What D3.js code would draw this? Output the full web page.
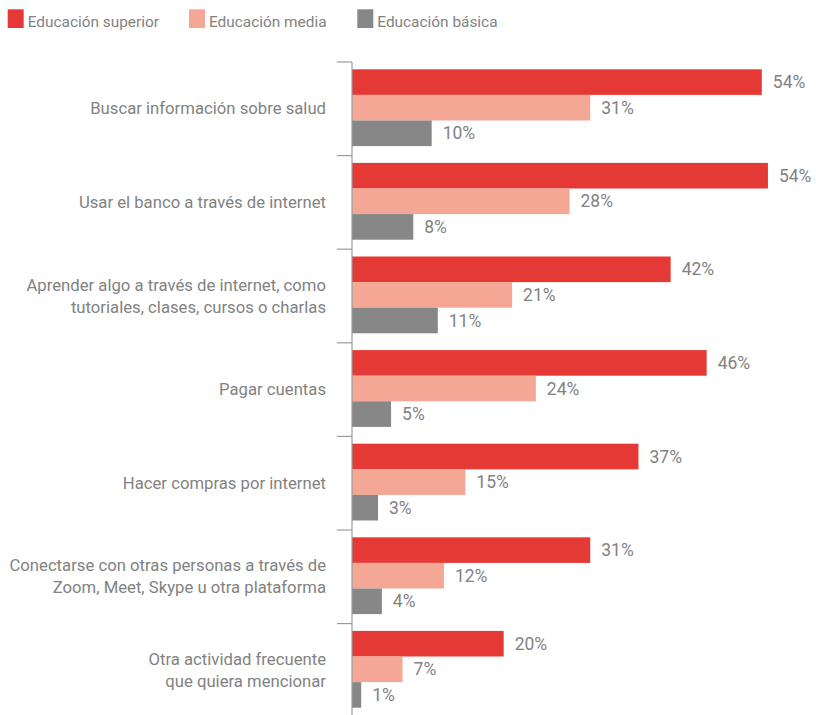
<!DOCTYPE html>
<html>
<head>
<meta charset="utf-8">
<script src="https://cdn.jsdelivr.net/npm/d3@7"></script>
<style>
  html, body { margin: 0; padding: 0; background: #fff; }
  svg { display: block; }
  text { font-family: Roboto, "Liberation Sans", sans-serif; fill: #828282; }
</style>
</head>
<body>
<svg id="chart" width="816" height="715"></svg>
<script>
const categories = [
  "Buscar información sobre salud",
  "Usar el banco a través de internet",
  "Aprender algo a través de internet, como\ntutoriales, clases, cursos o charlas",
  "Pagar cuentas",
  "Hacer compras por internet",
  "Conectarse con otras personas a través de\nZoom, Meet, Skype u otra plataforma",
  "Otra actividad frecuente\nque quiera mencionar"
];
const seriesNames = ["Educación superior", "Educación media", "Educación básica"];
const seriesColors = ["#e53935", "#f4a794", "#878787"];
const superior = [53.5, 54.3, 41.6, 46.3, 37.4, 31.1, 19.8];
const media    = [31.1, 28.4, 20.9, 24.0, 14.8, 12.0, 6.6];
const basica   = [10.4, 8.0, 11.2, 5.1, 3.4, 3.9, 1.2];
const seriesValues = [superior, media, basica];

const svg = d3.select("#chart");

const x = d3.scaleLinear().domain([0, 60]).range([352, 352 + 60 * 7.66]);
const y = d3.scaleBand().domain(categories).range([62, 62 + 7 * 93.6]);
const inner = d3.scaleBand().domain(seriesNames).range([7.3, 7.3 + 76.8]);

// Legend
const legendX = [7.7, 189, 357.3];
const lg = svg.append("g");
seriesNames.forEach((name, i) => {
  lg.append("rect").attr("x", legendX[i]).attr("y", 9.3).attr("width", 16).attr("height", 18.7)
    .attr("fill", seriesColors[i]);
  lg.append("text").attr("x", legendX[i] + 20).attr("y", 26.5)
    .attr("font-size", 15.4).text(name);
});

// Bars
seriesNames.forEach((name, si) => {
  const g = svg.append("g");
  g.selectAll("rect").data(seriesValues[si]).join("rect")
    .attr("x", x(0))
    .attr("y", (d, i) => y(categories[i]) + inner(name))
    .attr("width", d => x(d) - x(0))
    .attr("height", inner.bandwidth())
    .attr("fill", seriesColors[si]);
  g.selectAll("text").data(seriesValues[si]).join("text")
    .attr("x", d => x(d) + 11)
    .attr("y", (d, i) => y(categories[i]) + inner(name) + inner.bandwidth() / 2 + 6)
    .attr("font-size", 17.5)
    .text(d => Math.round(d) + "%");
});

// Axis line and ticks
const ax = svg.append("g").attr("stroke", "#9a9a9a").attr("stroke-width", 1.2);
ax.append("line").attr("x1", x(0)).attr("x2", x(0)).attr("y1", y(categories[0])).attr("y2", 715);
ax.selectAll(".tick").data(categories).join("line")
  .attr("x1", x(0) - 15).attr("x2", x(0))
  .attr("y1", d => y(d)).attr("y2", d => y(d));

// Category labels
const cl = svg.append("g");
categories.forEach(c => {
  const lines = c.split("\n");
  const cy = y(c) + y.bandwidth() / 2;
  const t = cl.append("text").attr("text-anchor", "end").attr("font-size", 16.7);
  lines.forEach((ln, k) => {
    t.append("tspan").attr("x", 326)
      .attr("y", cy + 5.5 + (k - (lines.length - 1) / 2) * 22)
      .text(ln);
  });
});
</script>
</body>
</html>
